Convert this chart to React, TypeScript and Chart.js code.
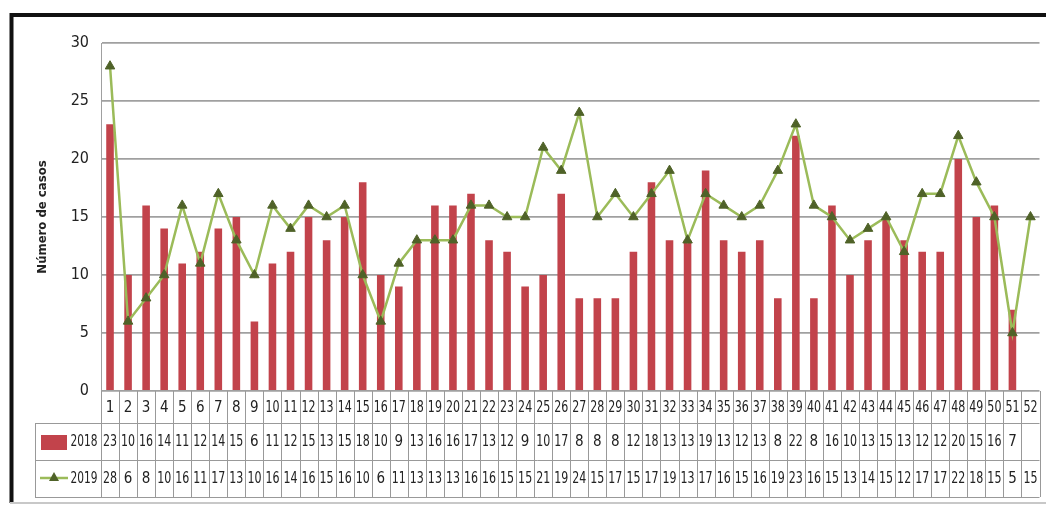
import React, { useEffect, useRef } from "react";
import { Chart, registerables } from "chart.js";

Chart.register(...registerables);

const weeks = [
  "1", "2", "3", "4", "5", "6", "7", "8", "9", "10",
  "11", "12", "13", "14", "15", "16", "17", "18", "19", "20",
  "21", "22", "23", "24", "25", "26", "27", "28", "29", "30",
  "31", "32", "33", "34", "35", "36", "37", "38", "39", "40",
  "41", "42", "43", "44", "45", "46", "47", "48", "49", "50",
  "51", "52",
];

const cases2018: (number | null)[] = [
  23, 10, 16, 14, 11, 12, 14, 15, 6, 11,
  12, 15, 13, 15, 18, 10, 9, 13, 16, 16,
  17, 13, 12, 9, 10, 17, 8, 8, 8, 12,
  18, 13, 13, 19, 13, 12, 13, 8, 22, 8,
  16, 10, 13, 15, 13, 12, 12, 20, 15, 16,
  7, null,
];

const cases2019: number[] = [
  28, 6, 8, 10, 16, 11, 17, 13, 10, 16,
  14, 16, 15, 16, 10, 6, 11, 13, 13, 13,
  16, 16, 15, 15, 21, 19, 24, 15, 17, 15,
  17, 19, 13, 17, 16, 15, 16, 19, 23, 16,
  15, 13, 14, 15, 12, 17, 17, 22, 18, 15,
  5, 15,
];

const seriesLabels = ["2018", "2019"];
const yTitle = "Número de casos";
const yMin = 0;
const yMax = 30;
const yStep = 5;

const BAR_COLOR = "#C2434B";
const LINE_COLOR = "#9BBB59";
const POINT_COLOR = "#4F6228";
const GRID_COLOR = "#A0A0A0";
const TABLE_LINE = "#999999";
const TEXT_COLOR = "#222222";
const FONT_FAMILY = "'Liberation Sans Narrow', 'DejaVu Sans Condensed', 'Arial Narrow', sans-serif";

function fitText(ctx: CanvasRenderingContext2D, text: string, cx: number, cy: number, maxW: number) {
  const w = ctx.measureText(text).width;
  ctx.save();
  ctx.translate(cx, cy);
  if (w > maxW) ctx.scale(maxW / w, 1);
  ctx.fillText(text, 0, 0);
  ctx.restore();
}

const tablePlugin = {
  id: "tablePlugin",
  afterDraw(chart: any) {
    const ctx: CanvasRenderingContext2D = chart.ctx;
    const area = chart.chartArea;
    const n = weeks.length;
    const colW = (area.right - area.left) / n;
    const legendLeft = 35;
    const row0Top = area.bottom;
    const row1Top = 423;
    const row2Top = 460;
    const tableBottom = 497;

    ctx.save();
    // frame
    ctx.strokeStyle = "#111";
    ctx.lineWidth = 4;
    ctx.beginPath();
    ctx.moveTo(10, 15);
    ctx.lineTo(1046, 15);
    ctx.moveTo(11.5, 13);
    ctx.lineTo(11.5, 503);
    ctx.stroke();
    ctx.strokeStyle = "#C8C8C8";
    ctx.lineWidth = 2;
    ctx.beginPath();
    ctx.moveTo(10, 503);
    ctx.lineTo(1046, 503);
    ctx.stroke();

    // y title
    ctx.save();
    ctx.translate(43, (area.top + area.bottom) / 2);
    ctx.rotate(-Math.PI / 2);
    ctx.fillStyle = "#222";
    ctx.font = "bold 13px " + FONT_FAMILY;
    ctx.textAlign = "center";
    ctx.textBaseline = "middle";
    ctx.fillText(yTitle, 0, 0);
    ctx.restore();

    // table grid
    ctx.strokeStyle = TABLE_LINE;
    ctx.lineWidth = 1;
    ctx.beginPath();
    for (let k = 0; k <= n; k++) {
      const x = Math.round(area.left + k * colW) + 0.5;
      ctx.moveTo(x, row0Top);
      ctx.lineTo(x, tableBottom);
    }
    ctx.moveTo(legendLeft + 0.5, row1Top);
    ctx.lineTo(legendLeft + 0.5, tableBottom);
    [row1Top, row2Top, tableBottom].forEach((y) => {
      ctx.moveTo(legendLeft, y + 0.5);
      ctx.lineTo(area.right, y + 0.5);
    });
    ctx.stroke();

    // text
    ctx.fillStyle = TEXT_COLOR;
    ctx.font = "15px " + FONT_FAMILY;
    ctx.textAlign = "center";
    ctx.textBaseline = "middle";
    const xs = chart.scales.x;
    for (let i = 0; i < n; i++) {
      const cx = xs.getPixelForValue(i);
      fitText(ctx, weeks[i], cx, (row0Top + row1Top) / 2 + 1, colW - 4);
      const v1 = cases2018[i];
      if (v1 !== null && v1 !== undefined) fitText(ctx, String(v1), cx, (row1Top + row2Top) / 2 + 1, colW - 4);
      const v2 = cases2019[i];
      if (v2 !== null && v2 !== undefined) fitText(ctx, String(v2), cx, (row2Top + tableBottom) / 2 + 1, colW - 4);
    }

    // legend cells
    ctx.fillStyle = BAR_COLOR;
    ctx.fillRect(41, 435, 26, 15);
    ctx.strokeStyle = LINE_COLOR;
    ctx.lineWidth = 2.5;
    ctx.beginPath();
    ctx.moveTo(40, 478);
    ctx.lineTo(68, 478);
    ctx.stroke();
    ctx.fillStyle = POINT_COLOR;
    ctx.beginPath();
    ctx.moveTo(54, 472);
    ctx.lineTo(59, 481);
    ctx.lineTo(49, 481);
    ctx.closePath();
    ctx.fill();

    ctx.fillStyle = TEXT_COLOR;
    ctx.textAlign = "center";
    ctx.font = "15px " + FONT_FAMILY;
    fitText(ctx, seriesLabels[0], 84, (row1Top + row2Top) / 2 + 1, 27);
    fitText(ctx, seriesLabels[1], 84, (row2Top + tableBottom) / 2 + 1, 27);
    ctx.restore();
  },
};

export default function App() {
  const canvasRef = useRef<HTMLCanvasElement | null>(null);

  useEffect(() => {
    if (!canvasRef.current) return;
    const chart = new Chart(canvasRef.current, {
      type: "bar",
      data: {
        labels: weeks,
        datasets: [
          {
            type: "line",
            label: seriesLabels[1],
            data: cases2019,
            borderColor: LINE_COLOR,
            borderWidth: 2.5,
            backgroundColor: POINT_COLOR,
            pointStyle: "triangle",
            pointRadius: 5.5,
            pointBackgroundColor: POINT_COLOR,
            pointBorderColor: POINT_COLOR,
            pointBorderWidth: 1,
            tension: 0,
            order: 0,
          } as any,
          {
            type: "bar",
            label: seriesLabels[0],
            data: cases2018,
            backgroundColor: BAR_COLOR,
            barPercentage: 0.42,
            categoryPercentage: 1,
            order: 1,
          } as any,
        ],
      },
      options: {
        responsive: false,
        animation: false,
        layout: { padding: { left: 0, top: 43, right: 4, bottom: 115 } },
        plugins: {
          legend: { display: false },
          tooltip: { enabled: false },
          title: { display: false },
        },
        scales: {
          x: { display: false, offset: true },
          y: {
            min: yMin,
            max: yMax,
            ticks: {
              stepSize: yStep,
              padding: 12,
              color: "#222",
              font: { family: FONT_FAMILY, size: 16 },
            },
            grid: { color: GRID_COLOR, lineWidth: 1.8, drawTicks: false },
            border: { display: true, color: GRID_COLOR, width: 1 },
            afterFit: (scale: any) => {
              scale.width = 101;
            },
          },
        },
      },
      plugins: [tablePlugin],
    });
    return () => chart.destroy();
  }, []);

  return (
    <div style={{ position: "absolute", left: 0, top: 0, width: 1046, height: 506, background: "#fff" }}>
      <canvas ref={canvasRef} width={1046} height={506} style={{ display: "block" }} />
    </div>
  );
}
